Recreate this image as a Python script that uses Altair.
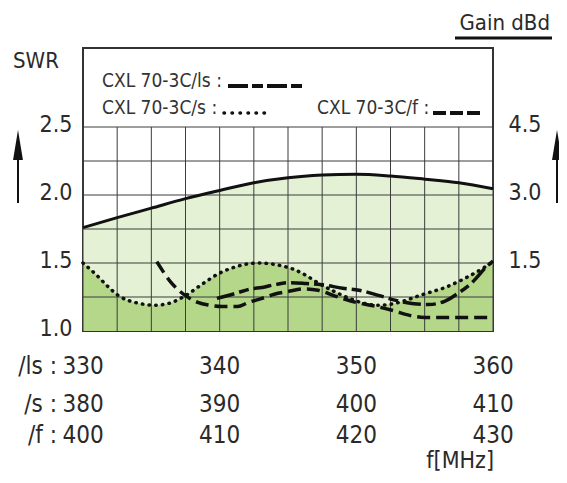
import altair as alt
import pandas as pd

FONT = "DejaVu Sans Condensed, DejaVu Sans, sans-serif"
INK = "#2a2a2a"

# ---- data (x positions in the /ls frequency scale, MHz) ----
gain_f = [330, 332.5, 335, 337.5, 340, 342.5, 345, 347.5, 350, 352.5, 355, 357.5, 360]
gain_dbd = [2.28, 2.50, 2.71, 2.92, 3.10, 3.27, 3.38, 3.44, 3.46, 3.42, 3.35, 3.27, 3.14]

s_f = [330.0, 330.9, 331.9, 332.6, 333.8, 335.3, 336.5, 337.5, 338.8, 339.9, 341.1, 342.8,
       344.5, 345.5, 346.3, 347.1, 348.6, 349.5, 350.5, 351.6, 352.7, 353.9, 354.9, 356.5,
       357.9, 359.4, 360.0]
s_swr = [1.50, 1.42, 1.32, 1.26, 1.21, 1.19, 1.21, 1.26, 1.35, 1.42, 1.47, 1.50,
         1.48, 1.45, 1.41, 1.36, 1.28, 1.24, 1.205, 1.19, 1.20, 1.235, 1.27, 1.32,
         1.385, 1.47, 1.51]

ls_f = [339.8, 341.1, 342.3, 343.1, 344.0, 345.0, 346.2, 347.5, 349.0, 350.2, 351.7, 352.9,
        354.2, 355.3, 356.5, 357.4, 358.4, 359.6, 360.0]
ls_swr = [1.24, 1.275, 1.31, 1.32, 1.34, 1.355, 1.35, 1.34, 1.315, 1.30, 1.26, 1.225,
          1.20, 1.195, 1.22, 1.275, 1.35, 1.48, 1.515]

f_f = [335.4, 336.5, 337.5, 338.4, 339.2, 340.2, 341.3, 342.1, 343.1, 344.0, 345.0, 346.2,
       347.2, 348.5, 350.0, 351.5, 352.7, 353.9, 355.0, 356.5, 358.0, 360.0]
f_swr = [1.51, 1.35, 1.26, 1.21, 1.19, 1.18, 1.18, 1.21, 1.24, 1.27, 1.29, 1.31,
         1.30, 1.255, 1.21, 1.18, 1.15, 1.115, 1.10, 1.10, 1.10, 1.10]

grid_x = [330, 332.5, 335, 337.5, 340, 342.5, 345, 347.5, 350, 352.5, 355, 357.5, 360]
grid_y = [1.25, 1.5, 1.75, 2.0, 2.25, 2.5]

ls_ticks = [330, 340, 350, 360]
s_ticks = [380, 390, 400, 410]
f_ticks = [400, 410, 420, 430]
row_prefix = ["/ls :", "/s :", "/f :"]

swr_ticks = [1.0, 1.5, 2.0, 2.5]
gain_ticks = [1.5, 3.0, 4.5]

W, H = 410, 283
SWR_DOM = [1.0, 3.081]
GAIN_DOM = [0.0, 6.243]
X_DOM = [330, 360]

xs = alt.Scale(domain=X_DOM, nice=False, zero=False)
ys = alt.Scale(domain=SWR_DOM, nice=False, zero=False)
gs = alt.Scale(domain=GAIN_DOM, nice=False, zero=False)

gain_df = pd.DataFrame({"f": gain_f, "g": gain_dbd, "g0": 0.0})
s_df = pd.DataFrame({"f": s_f, "swr": s_swr, "base": 1.0})
ls_df = pd.DataFrame({"f": ls_f, "swr": ls_swr})
f_df = pd.DataFrame({"f": f_f, "swr": f_swr})
gx_df = pd.DataFrame({"f": grid_x, "lo": 1.0, "hi": 2.5})
gy_df = pd.DataFrame({"swr": grid_y, "x0": X_DOM[0], "x1": X_DOM[1]})

X = alt.X("f:Q", scale=xs, axis=None)

light = alt.Chart(gain_df).mark_area(color="#e4f1d5", interpolate="monotone").encode(
    x=X,
    y=alt.Y("g:Q", scale=gs, axis=alt.Axis(orient="right", values=gain_ticks, format=".1f",
            title="", ticks=False, domain=False, grid=False, labelFontSize=23,
            labelFont=FONT, labelColor=INK, labelPadding=15, labelOffset=-3)),
    y2="g0:Q",
)

dark = alt.Chart(s_df).mark_area(color="#b4d78a", interpolate="monotone").encode(
    x=X,
    y=alt.Y("swr:Q", scale=ys, axis=alt.Axis(orient="left", values=swr_ticks, format=".1f",
            title="", ticks=False, domain=False, grid=False, labelFontSize=23,
            labelFont=FONT, labelColor=INK, labelPadding=11, labelOffset=-3)),
    y2="base:Q",
)

vgrid = alt.Chart(gx_df).mark_rule(color="#3c3c3c", strokeWidth=1).encode(
    x=X,
    y=alt.Y("lo:Q", scale=ys, axis=None),
    y2="hi:Q",
)
hgrid = alt.Chart(gy_df).mark_rule(color="#3c3c3c", strokeWidth=1).encode(
    x=alt.X("x0:Q", scale=xs, axis=None),
    x2="x1:Q",
    y=alt.Y("swr:Q", scale=ys, axis=None),
)

gain_line = alt.Chart(gain_df).mark_line(color="#111", strokeWidth=3, interpolate="monotone").encode(
    x=X, y=alt.Y("g:Q", scale=gs, axis=None)
)
s_line = alt.Chart(s_df).mark_line(color="#111", strokeWidth=3.5, strokeDash=[0.5, 6.2],
                                   strokeCap="round", interpolate="monotone").encode(
    x=X, y=alt.Y("swr:Q", scale=ys, axis=None)
)
ls_line = alt.Chart(ls_df).mark_line(color="#111", strokeWidth=3.5, strokeDash=[18, 5, 10, 5],
                                     interpolate="monotone").encode(
    x=X, y=alt.Y("swr:Q", scale=ys, axis=None)
)
f_line = alt.Chart(f_df).mark_line(color="#111", strokeWidth=3.5, strokeDash=[13, 6],
                                   interpolate="monotone").encode(
    x=X, y=alt.Y("swr:Q", scale=ys, axis=None)
)

# ---- frequency rows below the plot ----
row_y = [319, 357, 387.5]
rows = []
for i, ticks in enumerate([ls_ticks, s_ticks, f_ticks]):
    df = pd.DataFrame({"f": ls_ticks, "lab": [str(t) for t in ticks]})
    rows.append(alt.Chart(df).mark_text(font=FONT, fontSize=24, color=INK, align="center",
                                        baseline="middle").encode(
        x=X, y=alt.value(row_y[i]), text="lab:N"))
    pdf = pd.DataFrame({"f": [ls_ticks[0]], "lab": [row_prefix[i]]})
    rows.append(alt.Chart(pdf).mark_text(font=FONT, fontSize=24, color=INK, align="right",
                                         baseline="middle", dx=-26).encode(
        x=X, y=alt.value(row_y[i]), text="lab:N"))

unit = alt.Chart(pd.DataFrame({"t": ["f[MHz]"]})).mark_text(
    font=FONT, fontSize=23, color=INK, align="right", baseline="alphabetic").encode(
    x=alt.value(411), y=alt.value(420), text="t:N")

# ---- legend inside the box ----
leg_text = pd.DataFrame({
    "t": ["CXL 70-3C/ls :", "CXL 70-3C/s :", "CXL 70-3C/f :"],
    "px": [19, 19, 234],
    "py": [33, 60, 60],
})
legend_labels = alt.Chart(leg_text).mark_text(font=FONT, fontSize=19, color="#333",
                                              align="left", baseline="middle").encode(
    x=alt.X("px:Q", scale=None), y=alt.Y("py:Q", scale=None), text="t:N")

dummy = pd.DataFrame({"k": [0]})
leg_ls = alt.Chart(dummy).mark_rule(color="#111", strokeWidth=4, strokeDash=[20, 4, 11, 4]).encode(
    x=alt.value(145), x2=alt.value(221), y=alt.value(38))
leg_s = alt.Chart(dummy).mark_rule(color="#111", strokeWidth=3.5, strokeDash=[0.5, 7.5],
                                   strokeCap="round").encode(
    x=alt.value(141), x2=alt.value(186), y=alt.value(65))
leg_f = alt.Chart(dummy).mark_rule(color="#111", strokeWidth=4, strokeDash=[13, 4]).encode(
    x=alt.value(350), x2=alt.value(398), y=alt.value(65))

# ---- axis titles and arrows ----
swr_title = alt.Chart(pd.DataFrame({"t": ["SWR"]})).mark_text(
    font=FONT, fontSize=22, color=INK, align="left", baseline="middle").encode(
    x=alt.value(-70), y=alt.value(13), text="t:N")
gain_title = alt.Chart(pd.DataFrame({"t": ["Gain dBd"]})).mark_text(
    font=FONT, fontSize=22, color=INK, align="right", baseline="alphabetic").encode(
    x=alt.value(467), y=alt.value(-18), text="t:N")
gain_ul = alt.Chart(dummy).mark_rule(color="#111", strokeWidth=3).encode(
    x=alt.value(372), x2=alt.value(469), y=alt.value(-10))

tri = "M0,-1L0.33,1L-0.33,1Z"
arrows = []
for ax in [-65, 474]:
    arrows.append(alt.Chart(dummy).mark_rule(color="#111", strokeWidth=2).encode(
        x=alt.value(ax), y=alt.value(100), y2=alt.value(155)))
    arrows.append(alt.Chart(dummy).mark_point(shape=tri, filled=True, color="#111", opacity=1,
                                              size=900).encode(
        x=alt.value(ax), y=alt.value(97)))

chart = alt.layer(
    light, dark, vgrid, hgrid, gain_line, s_line, ls_line, f_line,
    *rows, unit, legend_labels, leg_ls, leg_s, leg_f,
    swr_title, gain_title, gain_ul, *arrows,
).resolve_scale(y="independent").properties(
    width=W, height=H,
    padding={"left": 75, "top": 40, "right": 66, "bottom": 144},
    autosize=alt.AutoSizeParams(type="none"),
    background="white",
).configure_view(stroke="#333", strokeWidth=2)

chart.save("out.html", embed_options={"renderer": "svg", "actions": False})
